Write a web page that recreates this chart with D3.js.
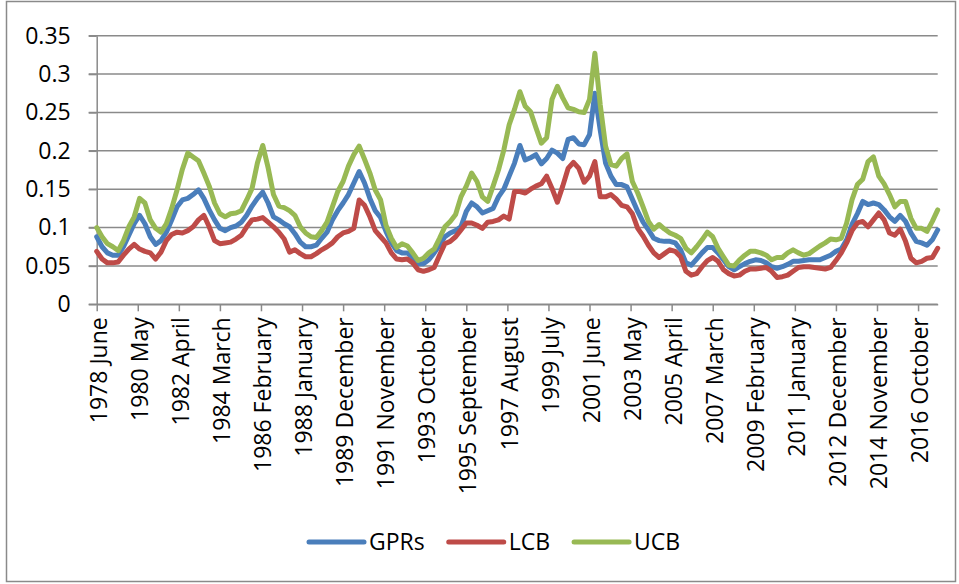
<!DOCTYPE html>
<html>
<head>
<meta charset="utf-8">
<script src="https://cdn.jsdelivr.net/npm/d3@7"></script>
<style>
  body { margin: 0; background: #fff; }
  svg text { font-family: "Open Sans", sans-serif; fill: #000; }
</style>
</head>
<body>
<div id="chart"></div>
<script>
/*global d3:true */

// category axis: one category per month from 1978 June, values read every third month
var categoryCount = 472;
var months = d3.range(0, categoryCount, 3);

var gprs = [
  0.088,0.075,0.067,0.064,0.064,0.075,0.090,0.105,0.116,0.105,
  0.088,0.078,0.083,0.094,0.110,0.127,0.136,0.138,0.143,0.149,
  0.138,0.123,0.110,0.099,0.096,0.100,0.102,0.107,0.116,0.128,
  0.138,0.146,0.132,0.114,0.110,0.105,0.101,0.092,0.081,0.075,
  0.075,0.077,0.086,0.094,0.110,0.122,0.132,0.143,0.158,0.173,
  0.158,0.138,0.122,0.113,0.095,0.080,0.070,0.067,0.067,0.061,
  0.053,0.053,0.058,0.067,0.077,0.088,0.093,0.096,0.101,0.121,
  0.132,0.127,0.119,0.122,0.125,0.140,0.150,0.167,0.184,0.207,
  0.188,0.191,0.195,0.183,0.190,0.201,0.197,0.190,0.215,0.217,
  0.209,0.208,0.221,0.275,0.227,0.184,0.167,0.156,0.156,0.153,
  0.137,0.121,0.107,0.097,0.086,0.083,0.082,0.082,0.080,0.071,
  0.054,0.051,0.059,0.067,0.074,0.074,0.067,0.058,0.049,0.045,
  0.049,0.053,0.056,0.058,0.057,0.054,0.049,0.047,0.049,0.052,
  0.056,0.056,0.057,0.058,0.058,0.058,0.061,0.064,0.069,0.072,
  0.084,0.104,0.118,0.134,0.130,0.132,0.130,0.123,0.114,0.108,
  0.116,0.108,0.093,0.082,0.080,0.077,0.084,0.097
];

var lcb = [
  0.069,0.059,0.054,0.054,0.055,0.064,0.072,0.078,0.072,0.069,
  0.067,0.059,0.068,0.083,0.091,0.094,0.093,0.096,0.101,0.110,
  0.116,0.101,0.083,0.079,0.080,0.081,0.085,0.090,0.101,0.110,
  0.111,0.113,0.107,0.101,0.094,0.085,0.068,0.071,0.066,0.062,
  0.062,0.066,0.071,0.075,0.080,0.088,0.093,0.095,0.099,0.136,
  0.129,0.114,0.096,0.088,0.080,0.067,0.059,0.058,0.059,0.054,
  0.045,0.043,0.045,0.048,0.064,0.079,0.082,0.088,0.097,0.106,
  0.106,0.103,0.099,0.107,0.108,0.110,0.115,0.111,0.147,0.147,
  0.145,0.150,0.154,0.157,0.167,0.151,0.133,0.154,0.177,0.185,
  0.177,0.159,0.167,0.186,0.140,0.140,0.143,0.137,0.129,0.127,
  0.118,0.099,0.089,0.077,0.067,0.061,0.066,0.071,0.069,0.062,
  0.043,0.038,0.040,0.049,0.057,0.061,0.056,0.045,0.040,0.037,
  0.038,0.043,0.046,0.046,0.047,0.048,0.043,0.035,0.036,0.038,
  0.043,0.048,0.049,0.049,0.048,0.047,0.046,0.048,0.057,0.067,
  0.080,0.096,0.106,0.108,0.101,0.110,0.119,0.110,0.093,0.090,
  0.098,0.082,0.060,0.054,0.056,0.060,0.061,0.073
];

var ucb = [
  0.100,0.088,0.079,0.075,0.070,0.083,0.101,0.114,0.138,0.132,
  0.110,0.099,0.094,0.105,0.125,0.149,0.176,0.197,0.192,0.187,
  0.171,0.154,0.132,0.118,0.114,0.118,0.119,0.122,0.136,0.151,
  0.184,0.207,0.178,0.143,0.128,0.126,0.122,0.116,0.101,0.093,
  0.088,0.087,0.096,0.107,0.127,0.147,0.160,0.180,0.195,0.206,
  0.189,0.171,0.149,0.136,0.103,0.086,0.074,0.079,0.076,0.067,
  0.057,0.060,0.067,0.072,0.086,0.101,0.108,0.117,0.140,0.154,
  0.171,0.160,0.140,0.134,0.154,0.175,0.201,0.234,0.254,0.277,
  0.258,0.251,0.230,0.210,0.217,0.267,0.284,0.269,0.256,0.254,
  0.251,0.250,0.267,0.327,0.260,0.206,0.182,0.180,0.190,0.196,
  0.160,0.145,0.127,0.108,0.098,0.104,0.098,0.093,0.090,0.086,
  0.073,0.067,0.075,0.084,0.094,0.088,0.073,0.062,0.051,0.050,
  0.058,0.064,0.069,0.069,0.067,0.064,0.058,0.061,0.061,0.067,
  0.071,0.067,0.064,0.066,0.071,0.076,0.080,0.085,0.084,0.086,
  0.106,0.136,0.156,0.163,0.186,0.192,0.167,0.157,0.143,0.127,
  0.134,0.134,0.112,0.099,0.099,0.095,0.108,0.123
];

// a label every 23rd category
var tickEvery = 23;
var tickLabels = ["1978 June","1980 May","1982 April","1984 March","1986 February",
  "1988 January","1989 December","1991 November","1993 October","1995 September",
  "1997 August","1999 July","2001 June","2003 May","2005 April","2007 March",
  "2009 February","2011 January","2012 December","2014 November","2016 October"];

var yTicks = [0, 0.05, 0.1, 0.15, 0.2, 0.25, 0.3, 0.35];

var seriesNames = ["GPRs", "LCB", "UCB"];
var seriesColors = ["#4A7EBB", "#BE4B48", "#98B954"];

// SVG
var width = 959, height = 584;
var margin = {left: 96.7, right: 21.3, top: 35.7, bottom: 279.7};
var gridColor = "#8a8a8a";

var svg = d3.select("#chart").append("svg")
    .attr("width", width)
    .attr("height", height);

// chart border
svg.append("rect")
    .attr("x", 6.5).attr("y", 1.5)
    .attr("width", 949).attr("height", 580)
    .attr("fill", "none")
    .attr("stroke", gridColor)
    .attr("stroke-width", 1.5);

var x = d3.scaleLinear().domain([0, categoryCount - 1]).range([margin.left, width - margin.right]);
var y = d3.scaleLinear().domain([0, 0.35]).range([height - margin.bottom, margin.top]);

// horizontal gridlines
svg.append("g").selectAll("line")
    .data(yTicks)
    .enter().append("line")
    .attr("x1", x(0) - 8)
    .attr("x2", x(categoryCount - 1))
    .attr("y1", function(d){ return y(d); })
    .attr("y2", function(d){ return y(d); })
    .attr("stroke", gridColor)
    .attr("stroke-width", 1.5);

// y axis
var yAxis = d3.axisLeft(y)
    .tickValues(yTicks)
    .tickSizeInner(8).tickSizeOuter(0).tickPadding(18)
    .tickFormat(function(d){ return d === 0 ? "0" : String(+d.toFixed(2)); });

var gy = svg.append("g").attr("transform", "translate(" + x(0) + ",0)").call(yAxis);
gy.selectAll("path, line").attr("stroke", gridColor).attr("stroke-width", 1.5);
gy.selectAll("text").style("font-size", "23px").attr("font-family", null);

// x axis
var xAxis = d3.axisBottom(x)
    .tickValues(tickLabels.map(function(d, i){ return i * tickEvery; }))
    .tickSizeInner(7).tickSizeOuter(0)
    .tickFormat(function(d){ return tickLabels[d / tickEvery]; });

var gx = svg.append("g").attr("transform", "translate(0," + y(0) + ")").call(xAxis);
gx.selectAll("path, line").attr("stroke", gridColor).attr("stroke-width", 1.5);
gx.selectAll("text")
    .style("font-size", "23px")
    .attr("font-family", null)
    .attr("text-anchor", "end")
    .attr("transform", "rotate(-90)")
    .attr("x", -13)
    .attr("y", 0)
    .attr("dy", "0.42em");

// the three lines
var allSeries = [gprs, lcb, ucb];
var line = d3.line()
    .x(function(d, i){ return x(months[i]); })
    .y(function(d){ return y(d); });

allSeries.forEach(function(s, k){
  svg.append("path")
      .datum(s)
      .attr("fill", "none")
      .attr("stroke", seriesColors[k])
      .attr("stroke-width", 5)
      .attr("stroke-linejoin", "round")
      .attr("stroke-linecap", "round")
      .attr("d", line);
});

// legend
var legend = svg.append("g").attr("transform", "translate(309,542)");
var lx = 0;
seriesNames.forEach(function(name, k){
  legend.append("line")
      .attr("x1", lx).attr("x2", lx + 55)
      .attr("y1", 0).attr("y2", 0)
      .attr("stroke", seriesColors[k])
      .attr("stroke-width", 5)
      .attr("stroke-linecap", "round");
  var t = legend.append("text")
      .attr("x", lx + 60)
      .attr("dy", "0.36em")
      .style("font-size", "23px")
      .text(name);
  lx += 60 + t.node().getComputedTextLength() + 24;
});
</script>
</body>
</html>
